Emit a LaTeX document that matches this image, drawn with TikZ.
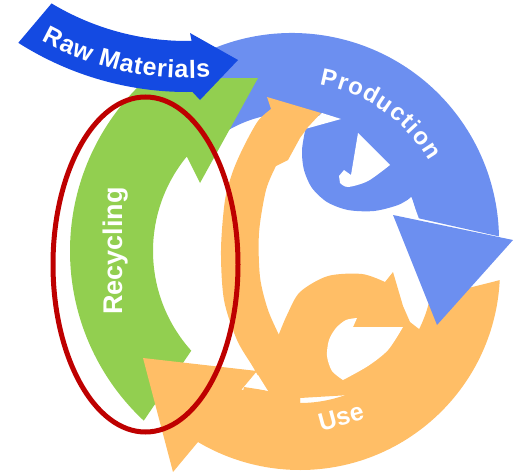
\documentclass[tikz,border=0pt]{standalone}
\usepackage{fontspec}
\setmainfont{Liberation Sans}
\usetikzlibrary{calc,decorations.text}
\definecolor{rawblue}{RGB}{20,74,226}
\definecolor{prodblue}{RGB}{108,143,240}
\definecolor{recgreen}{RGB}{146,207,80}
\definecolor{useorange}{RGB}{255,190,102}
\definecolor{ringred}{RGB}{190,0,0}
\newcommand{\rawlblfont}{\fontsize{25}{25}\selectfont\bfseries}
\newcommand{\prodlblfont}{\fontsize{24}{24}\selectfont\bfseries}
\begin{document}
\begin{tikzpicture}[x=1pt,y=-1pt,
  lbl/.style={text=white, inner sep=0pt, font=\fontsize{#1}{#1}\selectfont\bfseries},
  hole/.style={fill=white}]
\useasboundingbox (0,0) rectangle (514,474);
\coordinate (pc) at (292,240);
\coordinate (uc) at (300,270);
\coordinate (gc) at (302,251);
\coordinate (rc) at (187,-222);

% Use band (orange)
\fill[useorange] ($(uc)+(2.9:200)$) arc[start angle=2.9,end angle=121,radius=200]
  -- ($(uc)+(121:133)$) arc[start angle=121,end angle=12,radius=133] -- cycle;
% Use curl
\fill[useorange] (276,352) -- plot[smooth] coordinates {(279,334) (287,315) (300,292) (328,276) (362,274) (385,282)}
  -- (393,272) -- (403,306) -- (410,322) -- (428,336) -- (400,392) -- (300,398) -- cycle;
\fill[hole] (353,327) -- (403,327) -- plot[smooth] coordinates {(403,327) (388,350) (368,366) (343,380)}
  -- plot[smooth] coordinates {(343,380) (332,371) (327,356) (329,340) (336,328) (346,320) (357,318)} -- cycle;

% Production band (blue)
\fill[prodblue] ($(pc)+(-122:207)$) arc[start angle=-122,end angle=-1,radius=207]
  -- ($(pc)+(-10:127)$) arc[start angle=-10,end angle=-122,radius=127] -- cycle;
\fill[prodblue] (330,116) -- (306,126) -- plot[smooth] coordinates {(306,126) (302,150) (304,170) (312,188) (327,202) (348,210) (374,211) (398,205) (412,197)}
  -- (425,188) -- (420,150) -- (380,118) -- cycle;
\fill[hole] (358,133) -- (390,165) -- plot[smooth] coordinates {(390,165) (368,181) (348,187) (340,183)}
  -- (339,176) -- (344,170) -- (351,175) -- cycle;
\fill[hole] (411,197) -- (419,219) -- (395,214) -- cycle;
\fill[hole] (305,129) -- (341,119) -- (322,113) -- cycle;
\fill[prodblue] (393,215) -- (513,240) -- (437,325) -- cycle;

% Recycling (green)
\fill[recgreen] ($(gc)+(133:232)$) arc[start angle=133,end angle=235,radius=232]
  -- (215,78) -- (258,78) -- (200,183) -- (187,157)
  -- ($(gc)+(219.3:149)$) arc[start angle=219.3,end angle=138,radius=149] -- cycle;

% Raw Materials (dark blue)
\fill[rawblue] ($(rc)+(121:263)$) arc[start angle=121,end angle=89,radius=263]
  -- (190,33) -- (238,60) -- (200,100)
  -- ($(rc)+(89:314)$) arc[start angle=89,end angle=122.5,radius=314] -- cycle;

% Orange long arc (reuse)
\fill[useorange] (288,160) -- (300,138) -- (308,127) -- (321,113) -- (267,97) -- (271,109)
  -- plot[smooth] coordinates {(271,109) (258,121) (244,146) (233,171) (225,200) (221,250) (224,300) (237,340) (253,367) (268,393)}
  -- (275,410) -- (300,410) -- (300,345)
  -- plot[smooth] coordinates {(280,337) (268,310) (260,277) (259,233) (266,190) (276,166)} -- cycle;
% fill under the small gap
\fill[useorange] (244,387) -- (270,391) -- (300,398) -- (300,414) -- (240,404) -- cycle;

% Use arrowhead
\fill[useorange] (143,358) -- (257,371) -- (173,472) -- cycle;
\fill[hole] (258,375) -- (248,386) -- (268,391) -- cycle;

% Labels
\path[decorate, decoration={text along path, text={|\rawlblfont|Raw Materials}, text align={fit to path}, text color=white}]
  ($(rc)+(119:300)$) arc[start angle=119,end angle=85.5,radius=300];
\path[decorate, decoration={text along path, text={|\prodlblfont|Production}, text align={fit to path}, text color=white}]
  ($(pc)+(-80:158)$) arc[start angle=-80,end angle=-30,radius=158];
\node[lbl=27, rotate=90] (rec) at (116,251) {Recycling};
\node[lbl=25, rotate=15] (use) at (341,417) {Use};

% Red ellipse
\draw[ringred, line width=5] (145.5,264.5) ellipse[x radius=92.5, y radius=167.5];
\end{tikzpicture}
\end{document}
